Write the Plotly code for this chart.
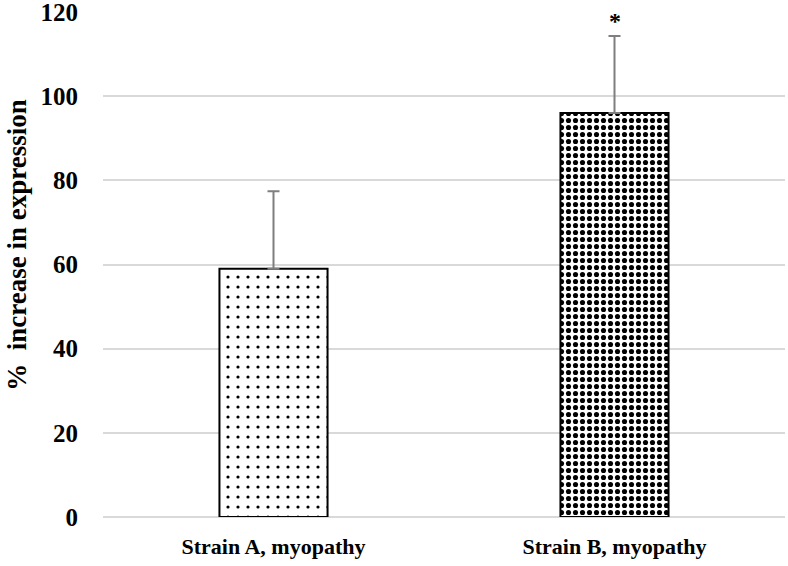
import plotly.graph_objects as go

categories = ["Strain A, myopathy", "Strain B, myopathy"]
values = [59, 96]
errors_up = [18.4, 18.3]
y_ticks = [0, 20, 40, 60, 80, 100, 120]
significance = ["", "*"]
y_title = "%&nbsp; increase in expression"

font_family = "Liberation Serif, Times New Roman, serif"

fig = go.Figure()
fig.add_trace(go.Bar(
    x=categories,
    y=values,
    width=0.317,
    marker=dict(
        color="white",
        line=dict(color="black", width=2),
        pattern=dict(
            shape=[".", "."],
            size=[10, 7],
            solidity=[0.08, 0.42],
            fgcolor="black",
            bgcolor="white",
            fgopacity=1,
        ),
    ),
    error_y=dict(
        type="data",
        symmetric=False,
        array=errors_up,
        arrayminus=[0, 0],
        color="#7f7f7f",
        thickness=2,
        width=6,
    ),
    showlegend=False,
))

for cat, v, e, s in zip(categories, values, errors_up, significance):
    if s:
        fig.add_annotation(
            x=cat, y=v + e, text=s, showarrow=False, yshift=15,
            font=dict(family=font_family, size=24, color="black", weight="bold"),
        )

# y-axis title as a rotated annotation (positioned slightly above center as in the reference)
fig.add_annotation(
    xref="paper", yref="paper", x=0, y=0.539, xshift=-86,
    xanchor="center", yanchor="middle", textangle=-90, showarrow=False,
    text=y_title,
    font=dict(family=font_family, size=27, color="black", weight="bold"),
)

fig.update_layout(
    width=788,
    height=566,
    margin=dict(l=103, r=3, t=12, b=49),
    plot_bgcolor="white",
    paper_bgcolor="white",
    bargap=0.683,
    font=dict(family=font_family, color="black"),
)
fig.update_xaxes(
    automargin=False,
    showgrid=False,
    showline=False,
    tickfont=dict(family=font_family, size=22, color="black", weight="bold"),
    ticks="",
    ticklabelstandoff=14,
)
fig.update_yaxes(
    automargin=False,
    range=[0, 120],
    tickvals=y_ticks,
    showgrid=True,
    gridcolor="#d9d9d9",
    gridwidth=1.5,
    zeroline=True,
    zerolinecolor="#d9d9d9",
    zerolinewidth=1.5,
    showline=False,
    ticklabeloverflow="allow",
    tickfont=dict(family=font_family, size=25, color="black", weight="bold"),
    ticklabelstandoff=24,
)

fig.write_html(
    "out.html",
    config={"displayModeBar": False},
    post_script="document.body.style.margin='0';",
)
